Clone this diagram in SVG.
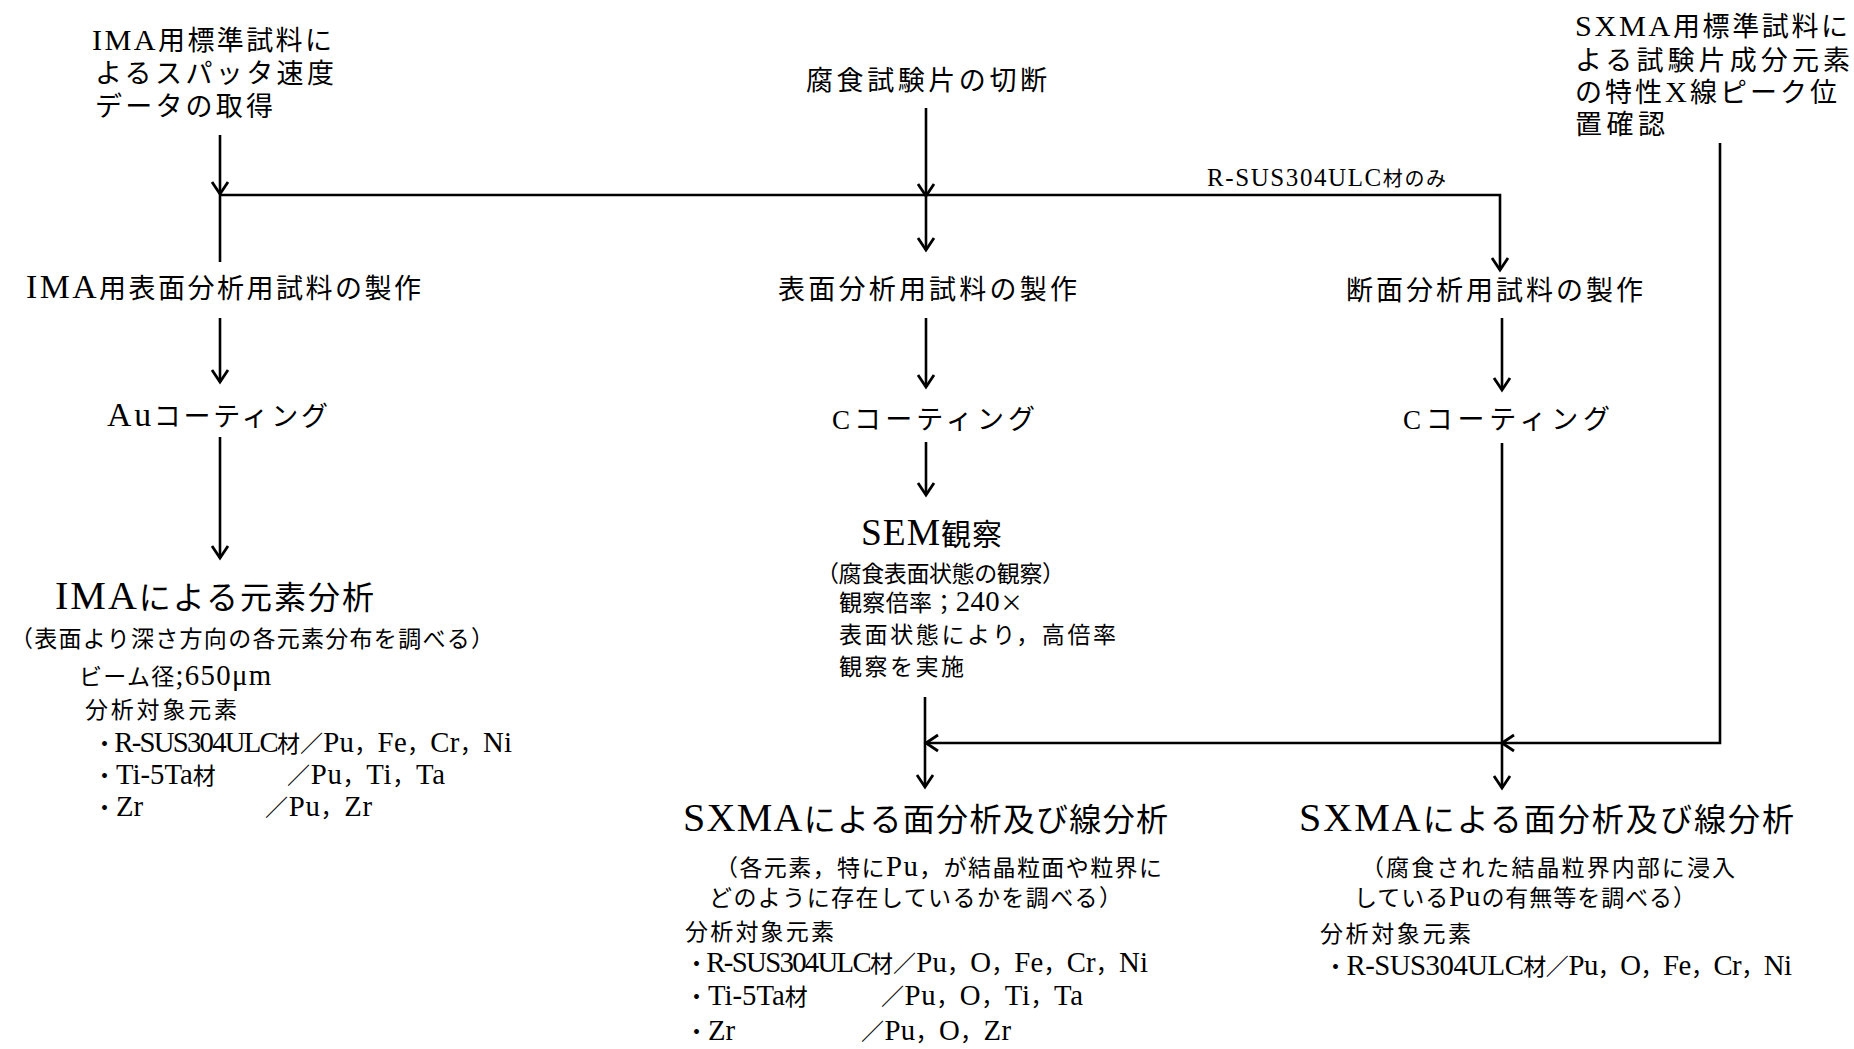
<svg xmlns="http://www.w3.org/2000/svg" width="1854" height="1049" viewBox="0 0 1854 1049">
<style>
text{font-family:"Liberation Serif","Noto Sans CJK JP",serif;fill:#000}
.m{font-size:27px}
.t{font-size:32px}
.s{font-size:23px}
.L{font-size:1.25em}
.L2{font-size:1.12em}
.j{font-family:"Noto Sans CJK JP",sans-serif}
.c{stroke:#000;stroke-width:2.6;fill:none}
</style>
<defs>
<marker id="a" markerUnits="userSpaceOnUse" markerWidth="30" markerHeight="30" viewBox="-15 -15 30 30" refX="0" refY="0" orient="auto">
<path d="M-12,-8 L0,0 L-12,8" fill="none" stroke="#000" stroke-width="2.8"/>
</marker>
</defs>
<rect width="1854" height="1049" fill="#fff"/>
<g id="connectors">
<path class="c" d="M220,135 V194" marker-end="url(#a)"/>
<path class="c" d="M220,194 V262"/>
<path class="c" d="M220,195 H1500 V270" marker-end="url(#a)"/>
<path class="c" d="M926,108 V196" marker-end="url(#a)"/>
<path class="c" d="M926,196 V250" marker-end="url(#a)"/>
<path class="c" d="M220,318 V382" marker-end="url(#a)"/>
<path class="c" d="M220,437 V558" marker-end="url(#a)"/>
<path class="c" d="M926,318 V387" marker-end="url(#a)"/>
<path class="c" d="M926,442 V495" marker-end="url(#a)"/>
<path class="c" d="M1502,318 V390" marker-end="url(#a)"/>
<path class="c" d="M1502,443 V788" marker-end="url(#a)"/>
<path class="c" d="M925,697 V787" marker-end="url(#a)"/>
<path class="c" d="M1720,143 V743 H1502" marker-end="url(#a)"/>
<path class="c" d="M1502,743 H926" marker-end="url(#a)"/>
<text x="1207" y="186" font-size="20" textLength="239" lengthAdjust="spacing"><tspan class="L">R-SUS304ULC</tspan>材のみ</text>
</g>
<g id="ima-std">
<text class="m" x="92" y="50" textLength="240" lengthAdjust="spacing"><tspan class="L2">IMA</tspan>用標準試料に</text>
<text class="m" x="95" y="83" textLength="239" lengthAdjust="spacing">よるスパッタ速度</text>
<text class="m" x="95" y="116" textLength="178" lengthAdjust="spacing">データの取得</text>
</g>
<g id="cut">
<text class="m" x="806" y="90" textLength="241" lengthAdjust="spacing">腐食試験片の切断</text>
</g>
<g id="sxma-std">
<text class="m" x="1575" y="36" textLength="273" lengthAdjust="spacing"><tspan class="L2">SXMA</tspan>用標準試料に</text>
<text class="m" x="1575" y="70" textLength="275" lengthAdjust="spacing">よる試験片成分元素</text>
<text class="m" x="1575" y="102" textLength="262" lengthAdjust="spacing">の特性<tspan class="L2">X</tspan>線ピーク位</text>
<text class="m" x="1575" y="134" textLength="90" lengthAdjust="spacing">置確認</text>
</g>
<g id="ima-prep">
<text class="m" x="26" y="298" textLength="395" lengthAdjust="spacing"><tspan class="L">IMA</tspan>用表面分析用試料の製作</text>
</g>
<g id="surf-prep">
<text class="m" x="778" y="299" textLength="299" lengthAdjust="spacing">表面分析用試料の製作</text>
</g>
<g id="cross-prep">
<text class="m" x="1346" y="300" textLength="297" lengthAdjust="spacing">断面分析用試料の製作</text>
</g>
<g id="au-coat">
<text class="m" x="107" y="426" textLength="221" lengthAdjust="spacing"><tspan class="L">Au</tspan>コーティング</text>
</g>
<g id="c-coat1">
<text class="m" x="832" y="429" textLength="203" lengthAdjust="spacing">Cコーティング</text>
</g>
<g id="c-coat2">
<text class="m" x="1403" y="429" textLength="207" lengthAdjust="spacing">Cコーティング</text>
</g>
<g id="ima-anal">
<text class="t" x="55" y="609" textLength="319" lengthAdjust="spacing"><tspan class="L">IMA</tspan>による元素分析</text>
<text class="s" x="10" y="647" textLength="484" lengthAdjust="spacing">（表面より深さ方向の各元素分布を調べる）</text>
<text class="s" x="79" y="685" textLength="192" lengthAdjust="spacing">ビーム径<tspan class="L">;650μm</tspan></text>
<text class="s" x="85" y="718" textLength="152" lengthAdjust="spacing">分析対象元素</text>
<text class="s" x="93" y="752" textLength="207" lengthAdjust="spacing">・<tspan class="L">R-SUS304ULC</tspan>材</text>
<text class="s" x="300" y="752" textLength="212" lengthAdjust="spacing">／<tspan class="L">Pu</tspan>，<tspan class="L">Fe</tspan>，<tspan class="L">Cr</tspan>，<tspan class="L">Ni</tspan></text>
<text class="s" x="93" y="784">・<tspan class="L">Ti-5Ta</tspan>材</text>
<text class="s" x="287" y="784" textLength="158" lengthAdjust="spacing">／<tspan class="L">Pu</tspan>，<tspan class="L">Ti</tspan>，<tspan class="L">Ta</tspan></text>
<text class="s" x="93" y="816">・<tspan class="L">Zr</tspan></text>
<text class="s" x="265" y="816" textLength="107" lengthAdjust="spacing">／<tspan class="L">Pu</tspan>，<tspan class="L">Zr</tspan></text>
</g>
<g id="sem">
<text x="861" y="545" font-size="30" textLength="141" lengthAdjust="spacing"><tspan class="L">SEM</tspan>観察</text>
<text class="s" x="816" y="582" textLength="249" lengthAdjust="spacing">（腐食表面状態の観察）</text>
<text class="s" x="839" y="611" textLength="184" lengthAdjust="spacing">観察倍率；<tspan class="L">240</tspan><tspan class="j">×</tspan></text>
<text class="s" x="839" y="643" textLength="277" lengthAdjust="spacing">表面状態により，高倍率</text>
<text class="s" x="839" y="675" textLength="125" lengthAdjust="spacing">観察を実施</text>
</g>
<g id="sxma-surf">
<text class="t" x="683" y="831" textLength="485" lengthAdjust="spacing"><tspan class="L">SXMA</tspan>による面分析及び線分析</text>
<text class="s" x="715" y="876" textLength="447" lengthAdjust="spacing">（各元素，特に<tspan class="L">Pu</tspan>，が結晶粒面や粒界に</text>
<text class="s" x="709" y="906" textLength="413" lengthAdjust="spacing">どのように存在しているかを調べる）</text>
<text class="s" x="685" y="940" textLength="149" lengthAdjust="spacing">分析対象元素</text>
<text class="s" x="685" y="972" textLength="208" lengthAdjust="spacing">・<tspan class="L">R-SUS304ULC</tspan>材</text>
<text class="s" x="893" y="972" textLength="255" lengthAdjust="spacing">／<tspan class="L">Pu</tspan>，<tspan class="L">O</tspan>，<tspan class="L">Fe</tspan>，<tspan class="L">Cr</tspan>，<tspan class="L">Ni</tspan></text>
<text class="s" x="685" y="1005">・<tspan class="L">Ti-5Ta</tspan>材</text>
<text class="s" x="881" y="1005" textLength="202" lengthAdjust="spacing">／<tspan class="L">Pu</tspan>，<tspan class="L">O</tspan>，<tspan class="L">Ti</tspan>，<tspan class="L">Ta</tspan></text>
<text class="s" x="685" y="1040">・<tspan class="L">Zr</tspan></text>
<text class="s" x="861" y="1040" textLength="150" lengthAdjust="spacing">／<tspan class="L">Pu</tspan>，<tspan class="L">O</tspan>，<tspan class="L">Zr</tspan></text>
</g>
<g id="sxma-cross">
<text class="t" x="1299" y="831" textLength="495" lengthAdjust="spacing"><tspan class="L">SXMA</tspan>による面分析及び線分析</text>
<text class="s" x="1361" y="876" textLength="374" lengthAdjust="spacing">（腐食された結晶粒界内部に浸入</text>
<text class="s" x="1354" y="906" textLength="342" lengthAdjust="spacing">している<tspan class="L">Pu</tspan>の有無等を調べる）</text>
<text class="s" x="1320" y="942" textLength="151" lengthAdjust="spacing">分析対象元素</text>
<text class="s" x="1324" y="975" textLength="468" lengthAdjust="spacing">・<tspan class="L">R-SUS304ULC</tspan>材／<tspan class="L">Pu</tspan>，<tspan class="L">O</tspan>，<tspan class="L">Fe</tspan>，<tspan class="L">Cr</tspan>，<tspan class="L">Ni</tspan></text>
</g>
</svg>
